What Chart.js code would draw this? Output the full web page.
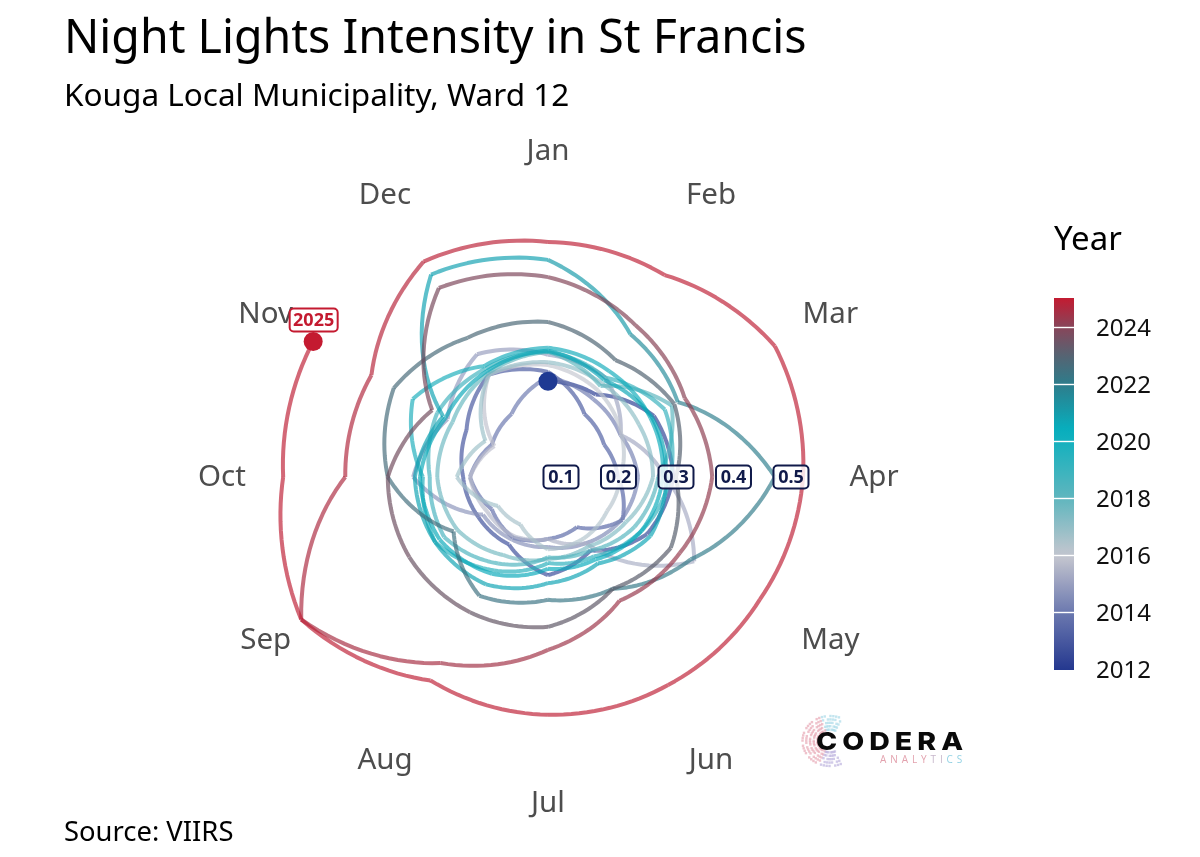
<!DOCTYPE html>
<html><head><meta charset="utf-8">
<style>html,body{margin:0;padding:0;background:#fff}canvas{display:block}</style>
<script src="https://cdn.jsdelivr.net/npm/chart.js@4"></script></head>
<body><canvas id="c" width="1200" height="857" style="width:1200px;height:857px"></canvas>
<script>
const months=['Jan','Feb','Mar','Apr','May','Jun','Jul','Aug','Sep','Oct','Nov','Dec'];
const y2012=[.244,.243,.290,.295,.276,.225,.248,.213,.217,.225,.241,.283];
const y2013=[.260,.204,.190,.199,.227,.178,.185,.199,.190,.213,.190,.204];
const y2014=[.251,.234,.223,.234,.225,.210,.199,.203,.208,.312,.279,.324];
const y2015=[.290,.277,.223,.281,.371,.210,.185,.196,.199,.213,.185,.283];
const y2016=[.272,.251,.225,.203,.196,.201,.203,.173,.178,.236,.203,.283];
const y2017=[.277,.265,.260,.260,.234,.217,.220,.234,.260,.270,.269,.286];
const y2018=[.295,.260,.326,.269,.251,.225,.217,.251,.286,.283,.300,.295];
const y2019=[.295,.277,.312,.290,.265,.237,.227,.265,.304,.295,.349,.300];
const y2020=[.302,.290,.283,.277,.265,.243,.237,.272,.295,.300,.283,.290];
const y2021=[.297,.272,.286,.283,.283,.251,.262,.293,.304,.309,.288,.484];
const y2022=[.455,.364,.338,.472,.364,.302,.291,.316,.267,.356,.387,.357];
const y2023=[.347,.312,.331,.300,.324,.302,.338,.349,.356,.356,.310,.457];
const y2024=[.425,.382,.352,.363,.342,.326,.378,.451,.573,.430,.432,.510];
const y2025=[.486,.483,.533,.521,.503,.495,.491,.486,.573,.538,.549];
const radialTicks=[0.1,0.2,0.3,0.4,0.5];
const legendTicks=[2012,2014,2016,2018,2020,2022,2024];
const barYears=[2012,2014,2016,2018,2020.4,2022,2023,2024,2025.05];
const barRGB=[[36,56,143],[107,120,175],[197,198,207],[96,182,190],[6,175,190],[45,125,140],[85,100,115],[135,70,90],[196,26,48]];
const lineYears=[2012,2014,2016,2018,2020.4,2022,2022.2,2023.4,2024,2025];
const lineRGB=[[36,56,143],[107,120,175],[197,198,207],[96,182,190],[6,170,186],[15,160,176],[45,125,140],[85,85,100],[125,65,85],[190,30,52]];
const lineAlpha=0.67;
const series=[].concat(y2012,y2013,y2014,y2015,y2016,y2017,y2018,y2019,y2020,y2021,y2022,y2023,y2024,y2025);
const font='"Noto Sans"';

function mapColor(ys,cs,y,a){
  let k=0; while(k<ys.length-2 && y>ys[k+1])k++;
  const t=Math.min(1,Math.max(0,(y-ys[k])/(ys[k+1]-ys[k])));
  const c=cs[k].map((v,j)=>Math.round(v+(cs[k+1][j]-v)*t));
  return `rgba(${c[0]},${c[1]},${c[2]},${a})`;
}
function badge(ctx,x,y,w,h,text,color,size){
  ctx.save();
  ctx.beginPath();ctx.roundRect(x-w/2,y-h/2,w,h,4);
  ctx.fillStyle='rgba(255,255,255,0.82)';ctx.fill();
  ctx.lineWidth=2;ctx.strokeStyle=color;ctx.stroke();
  ctx.fillStyle=color;ctx.font=`bold ${size}px ${font}`;
  ctx.textAlign='center';ctx.textBaseline='middle';
  ctx.fillText(text,x,y+0.5);
  ctx.restore();
}
const spiral={
  id:'spiral',
  beforeDatasetDraw(chart,args){
    if(args.index!==0)return;
    const s=chart.scales.r,ctx=chart.ctx,d=series,S=16;
    ctx.save();ctx.lineWidth=4;ctx.lineCap='butt';ctx.lineJoin='round';
    for(let i=0;i<d.length-1;i++){
      ctx.beginPath();
      for(let k=0;k<=S;k++){
        const t=k/S,p=s.getPointPositionForValue(i+t,d[i]+(d[i+1]-d[i])*t);
        k?ctx.lineTo(p.x,p.y):ctx.moveTo(p.x,p.y);
      }
      ctx.strokeStyle=mapColor(lineYears,lineRGB,2012+(i+0.5)/12,lineAlpha);ctx.stroke();
    }
    ctx.restore();
    return false;
  }
};
const overlay={
  id:'overlay',
  afterDraw(chart){
    const s=chart.scales.r,ctx=chart.ctx;
    ctx.save();
    ctx.textBaseline='middle';
    // month labels
    ctx.fillStyle='#4d4d4d';ctx.font=`29.5px ${font}`;ctx.textAlign='center';
    months.forEach((m,i)=>{const p=s.getPointPosition(i,326);ctx.fillText(m,p.x,p.y+1);});
    // radial tick badges
    radialTicks.forEach(v=>{const p=s.getPointPositionForValue(3,v);
      badge(ctx,p.x,p.y,35,23,v.toFixed(1),'#101a4a',18);});
    // end label
    const last=series.length-1,e=s.getPointPositionForValue(last,series[last]);
    badge(ctx,e.x+0.5,e.y-21.5,48,23,'2025','#c41a30',18);
    // colour bar
    const bx=1054,bw=20,top=298,y0=669.5,py=28.5,yearY=y=>y0-(y-2012)*py;
    const bot=y0+0.5,topYear=2012+(y0-top)/py;
    const g=ctx.createLinearGradient(0,bot,0,top);
    for(let k=0;k<=40;k++){const y=2012+(topYear-2012)*k/40;g.addColorStop(k/40,mapColor(barYears,barRGB,y,1));}
    ctx.fillStyle=g;ctx.fillRect(bx,top,bw,bot-top);
    ctx.font=`24px ${font}`;ctx.textAlign='left';
    legendTicks.forEach(y=>{const py2=yearY(y);
      ctx.fillStyle='#fff';if(y>2012)ctx.fillRect(bx,py2-0.7,bw,1.4);
      ctx.fillStyle='#111';ctx.fillText(String(y),1096,py2+2);});
    ctx.fillStyle='#000';ctx.font=`33px ${font}`;ctx.fillText('Year',1054,241);
    // source
    ctx.fillStyle='#000';ctx.font=`27.4px ${font}`;ctx.fillText('Source: VIIRS',64,833);
    // logo
    const cx=830,cy=741;
    for(let r=0;r<5;r++){
      const rad=25-r*3.4;
      for(let a=-25;a<205;a+=6){
        if((a*7+r*13)%5===0)continue;
        const t=(a+25)/230,th=a*Math.PI/180;
        ctx.fillStyle=t<0.2?'rgba(170,218,232,0.7)':(t<0.8?'rgba(232,170,182,0.7)':'rgba(190,180,222,0.7)');
        ctx.fillRect(cx-rad*1.1*Math.sin(th)-1.2,cy-rad*Math.cos(th)-1.2,2.4,2.4);
      }
    }
    ctx.fillStyle='#0a0a0a';ctx.font=`800 25px Inter`;ctx.textAlign='left';
    ctx.save();ctx.translate(816,742);ctx.scale(1.14,1);
    ctx.letterSpacing='4.4px';ctx.fillText('CODERA',0,0);ctx.restore();
    ctx.font=`10px "Open Sans"`;ctx.letterSpacing='3.9px';
    const an='ANALYTICS';let ax=880;
    for(let i=0;i<an.length;i++){
      ctx.fillStyle=i<5?'#e3a2ae':(i<7?'#c8b8cc':'#93d2e4');
      ctx.fillText(an[i],ax,760);ax+=ctx.measureText(an[i]).width;
    }
    ctx.letterSpacing='0px';
    ctx.restore();
  }
};
new Chart(document.getElementById('c'),{
  type:'radar',
  data:{labels:months,datasets:[
    {label:'Night lights',data:series,order:2,pointRadius:0,borderWidth:4,fill:false},
    {label:'2012',data:[y2012[0]],order:0,showLine:false,pointRadius:9.5,pointBorderWidth:0,pointBackgroundColor:'#1f3a93'},
    {label:'2025',data:series.map((v,i)=>i===series.length-1?v:null),order:0,showLine:false,pointRadius:9.5,pointBorderWidth:0,pointBackgroundColor:'#c41a30'}
  ]},
  options:{
    responsive:false,animation:false,devicePixelRatio:1,
    layout:{padding:{left:64,right:168,top:12,bottom:27}},
    scales:{r:{min:0.0774,max:0.6896,grid:{display:false},angleLines:{display:false},
      ticks:{display:false},pointLabels:{display:false}}},
    plugins:{
      legend:{display:false},tooltip:{enabled:false},
      title:{display:true,text:'Night Lights Intensity in St Francis',align:'start',color:'#000',
        font:{family:'Noto Sans',size:46.5,weight:'normal',lineHeight:1.2},padding:{top:0,bottom:10}},
      subtitle:{display:true,text:'Kouga Local Municipality, Ward 12',align:'start',color:'#000',
        font:{family:'Noto Sans',size:31.5,weight:'normal',lineHeight:1.2},padding:{top:0,bottom:10.2}}
    }
  },
  plugins:[spiral,overlay]
});
</script></body></html>
